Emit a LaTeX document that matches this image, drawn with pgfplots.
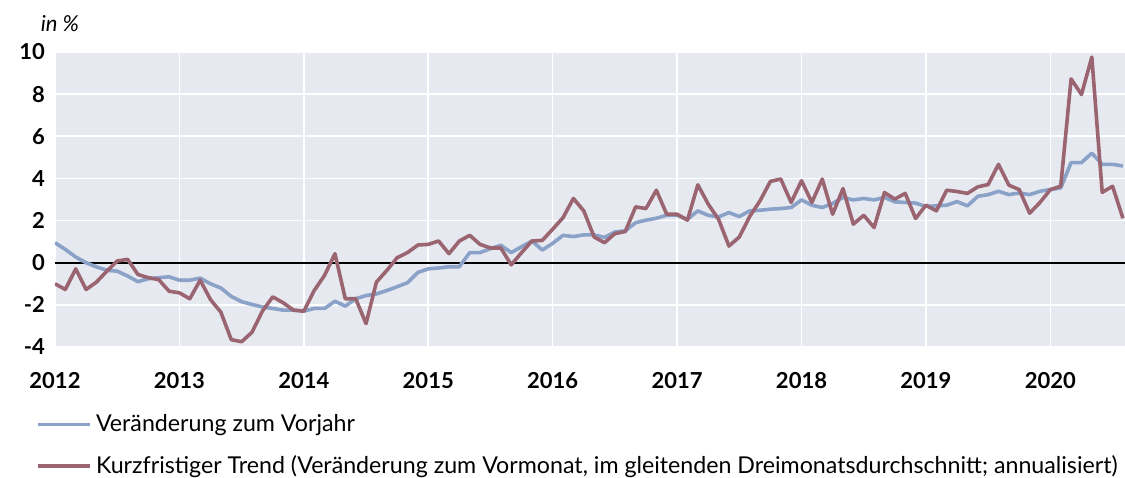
\documentclass[border=0pt]{standalone}
\usepackage{pgfplots}
\pgfplotsset{compat=1.18}
\usepackage{pgfplotstable}
\usepackage{fontspec}
\setmainfont{Lato}
\definecolor{bgcol}{HTML}{E7E9F0}
\definecolor{bluel}{HTML}{8AA2C8}
\definecolor{redl}{HTML}{9A6470}
% monthly values, Jan 2012 .. Aug 2020
\pgfplotstableread{
b r
0.95 -1.0
0.63 -1.27
0.27 -0.29
0.0 -1.27
-0.2 -0.92
-0.36 -0.4
-0.4 0.08
-0.63 0.16
-0.9 -0.56
-0.76 -0.71
-0.71 -0.8
-0.67 -1.35
-0.83 -1.43
-0.83 -1.71
-0.73 -0.83
-1.0 -1.75
-1.2 -2.35
-1.6 -3.65
-1.85 -3.75
-1.98 -3.3
-2.1 -2.3
-2.17 -1.62
-2.25 -1.9
-2.25 -2.25
-2.3 -2.3
-2.17 -1.32
-2.17 -0.6
-1.83 0.43
-2.06 -1.71
-1.71 -1.71
-1.56 -2.89
-1.48 -0.92
-1.32 -0.37
-1.14 0.24
-0.95 0.48
-0.46 0.84
-0.29 0.87
-0.25 1.03
-0.19 0.43
-0.19 1.03
0.48 1.3
0.48 0.87
0.67 0.7
0.83 0.7
0.48 -0.1
0.76 0.48
1.03 1.03
0.6 1.06
0.92 1.59
1.3 2.14
1.24 3.05
1.32 2.46
1.32 1.22
1.2 0.95
1.46 1.38
1.51 1.48
1.9 2.65
2.02 2.57
2.11 3.44
2.25 2.3
2.25 2.3
2.06 2.02
2.46 3.7
2.25 2.78
2.17 2.06
2.38 0.79
2.19 1.22
2.46 2.19
2.49 2.94
2.54 3.86
2.57 3.97
2.62 2.86
2.98 3.89
2.73 2.86
2.62 3.97
2.81 2.3
3.1 3.52
2.98 1.83
3.05 2.25
2.98 1.67
3.1 3.33
2.89 3.02
2.86 3.29
2.83 2.1
2.67 2.73
2.7 2.46
2.73 3.44
2.9 3.38
2.7 3.29
3.15 3.6
3.23 3.71
3.39 4.67
3.23 3.68
3.31 3.47
3.23 2.35
3.39 2.86
3.47 3.47
3.55 3.63
4.75 8.72
4.75 7.98
5.2 9.76
4.67 3.34
4.67 3.63
4.59 2.11
}\data
\begin{document}
\begin{tikzpicture}
\useasboundingbox (-27.5pt,-65pt) rectangle (535pt,173.5pt);
\begin{axis}[
  at={(0,0)}, anchor=south west,
  scale only axis, width=535pt, height=147.5pt,
  xmin=0, xmax=103.2, ymin=-4, ymax=10,
  xtick={0,12,...,96}, xticklabels={2012,2013,2014,2015,2016,2017,2018,2019,2020},
  ytick={-4,-2,...,10},
  grid=major, major grid style={white, line width=0.8pt},
  axis background/.style={fill=bgcol},
  axis line style={draw=none},
  major tick length=0pt,
  tick label style={font=\bfseries\fontsize{11}{13}\selectfont},
  /pgf/number format/assume math mode=true,
  xticklabel style={yshift=-9pt},
  yticklabel style={xshift=-1.5pt},
  legend cell align=left,
  legend image code/.code={\draw[#1] (0pt,0pt) -- (26pt,0pt);},
  legend style={draw=none, fill=none, at={(axis description cs:0,0)}, anchor=north west,
    xshift=-9.5pt, yshift=-31.5pt, inner sep=0pt, row sep=6.5pt,
    nodes={inner xsep=2pt},
    font=\fontsize{11.6}{13.5}\selectfont},
]
\addplot[black, line width=1pt, forget plot] coordinates {(0,0) (103.2,0)};
\addplot[bluel, line width=1.8pt, line join=round] table[x expr=\coordindex, y=b] {\data};
\addlegendentry{Veränderung zum Vorjahr}
\addplot[redl, line width=1.8pt, line join=round] table[x expr=\coordindex, y=r] {\data};
\addlegendentry{Kurzfristiger Trend (Veränderung zum Vormonat, im gleitenden Dreimonatsdurchschnitt; annualisiert)}
\end{axis}
\node[font=\itshape\fontsize{11}{13}\selectfont] at (2.5pt,161.5pt) {in \%};
\end{tikzpicture}
\end{document}
